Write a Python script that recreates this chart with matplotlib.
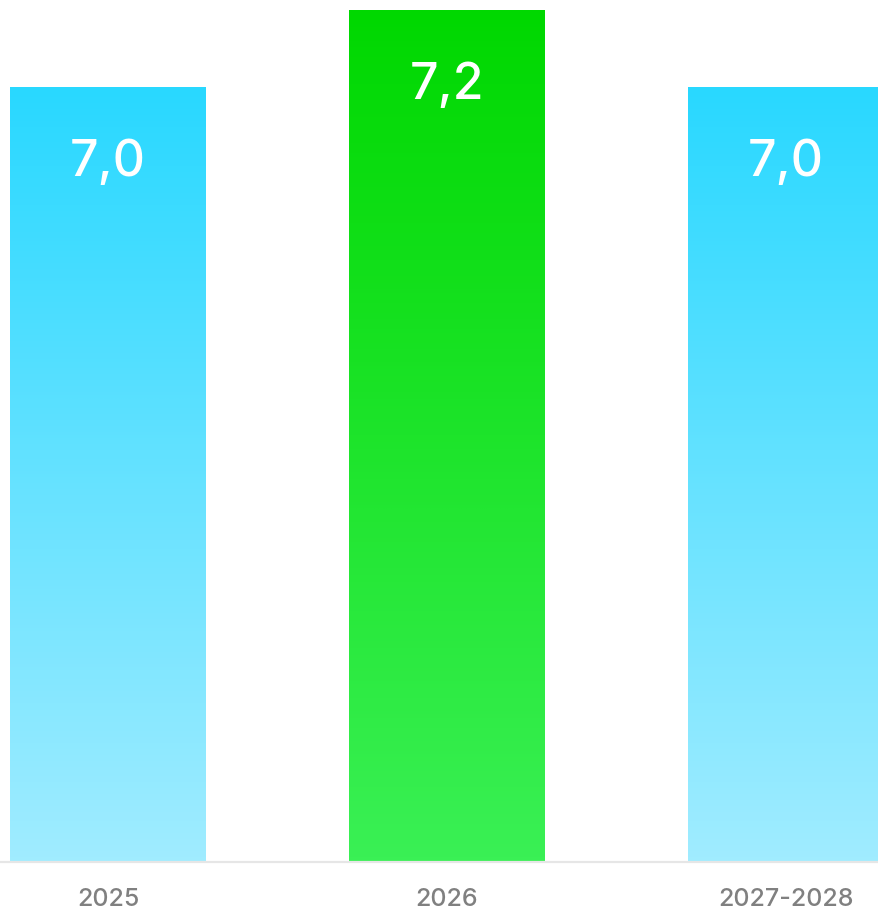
import numpy as np
import matplotlib
matplotlib.use("Agg")
import matplotlib.pyplot as plt
from matplotlib.colors import LinearSegmentedColormap

categories = ["2025", "2026", "2027-2028"]
values = [7.0, 7.2, 7.0]
value_labels = ["7,0", "7,2", "7,0"]
top_colors = ["#29d8ff", "#00d800", "#29d8ff"]
bottom_colors = ["#a0ecff", "#3af055", "#a0ecff"]

W, H = 879, 911
fig = plt.figure(figsize=(W / 100, H / 100), dpi=100)
ax = fig.add_axes([0, (H - 862) / H, 1, 862 / H])
ymin = 4.987
ymax = ymin + 862 / 385
ax.set_ylim(ymin, ymax)
ax.set_xlim(-108 / 339, (879 - 108) / 339)
ax.axis("off")

width = 196 / 339
x = np.arange(len(categories))
bars = ax.bar(x, [v - ymin for v in values], bottom=ymin, width=width, color="none")

grad = np.linspace(1, 0, 256).reshape(-1, 1)
for i, b in enumerate(bars):
    cmap = LinearSegmentedColormap.from_list(f"g{i}", [bottom_colors[i], top_colors[i]])
    x0, y0 = b.get_x(), b.get_y()
    im = ax.imshow(grad, aspect="auto", cmap=cmap, vmin=0, vmax=1,
                   extent=[x0, x0 + b.get_width(), y0, y0 + b.get_height()],
                   zorder=2, interpolation="bicubic")
    im.set_clip_path(b)
    ax.annotate(value_labels[i], (x[i], values[i]), xytext=(0, -64.3),
                textcoords="offset points", ha="center", va="baseline",
                color="white", fontsize=36, fontweight="medium",
                family=["Inter", "DejaVu Sans"], zorder=3)
    ax.annotate(categories[i], (x[i], ymin), xytext=(0, -31.7),
                textcoords="offset points", ha="center", va="baseline",
                color="#808080", fontsize=18, fontweight="medium",
                family=["Inter", "DejaVu Sans"], annotation_clip=False)

ax.set_xlim(-108 / 339, (879 - 108) / 339)
ax.set_ylim(ymin, ymax)
ax.axhline(ymin, color="#e6e6e6", lw=1.6, zorder=4, clip_on=False)

fig.savefig("out.png", dpi=100)
